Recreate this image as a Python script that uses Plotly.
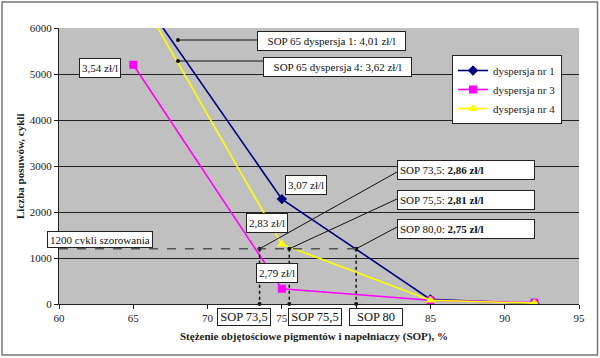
import plotly.graph_objects as go

# ---- data ----
sop = [65, 75, 85, 92]
disp1 = [6930, 2280, 100, 10]
disp3 = [5200, 330, 80, 30]
disp4 = [6930, 1300, 80, 20]
series_names = ["dyspersja nr 1", "dyspersja nr 3", "dyspersja nr 4"]
threshold = 1200
sop_marks = [73.5, 75.5, 80]
sop_mark_labels = ["SOP 73,5", "SOP 75,5", "SOP 80"]
sop_mark_costs = ["SOP 73,5: <b>2,86 zł/l</b>", "SOP 75,5: <b>2,81 zł/l</b>", "SOP 80,0: <b>2,75 zł/l</b>"]
x_ticks = [60, 65, 70, 75, 80, 85, 90, 95]
y_ticks = [0, 1000, 2000, 3000, 4000, 5000, 6000]
x_title = "Stężenie objętościowe pigmentów i napełniaczy (SOP), %"
y_title = "Liczba posuwów, cykli"

W, H = 600, 358
L, R, T, B = 59, 21, 28, 54
XR = (60, 95)
YR = (0, 6000)
pw, ph = W - L - R, H - T - B


def px2x(p):
    return XR[0] + (p - L) / pw * (XR[1] - XR[0])


def px2y(p):
    return YR[0] + (T + ph - p) / ph * (YR[1] - YR[0])


def px2paperx(p):
    return (p - L) / pw


def px2papery(p):
    return (T + ph - p) / ph


FONT = "Liberation Serif"
fig = go.Figure()
fig.add_trace(go.Scatter(x=sop, y=disp1, name=series_names[0], mode="lines+markers",
                         line=dict(color="#000080", width=1.6),
                         marker=dict(symbol="diamond", size=8, color="#000080")))
fig.add_trace(go.Scatter(x=sop, y=disp3, name=series_names[1], mode="lines+markers",
                         line=dict(color="#ff00ff", width=1.6),
                         marker=dict(symbol="square", size=8, color="#ff00ff")))
fig.add_trace(go.Scatter(x=sop, y=disp4, name=series_names[2], mode="lines+markers",
                         line=dict(color="#ffff00", width=1.6),
                         marker=dict(symbol="triangle-up", size=9, color="#ffff00")))

shapes = []
annotations = []

# threshold dashed line
shapes.append(dict(type="line", xref="x", yref="y", x0=XR[0], x1=max(sop_marks), y0=threshold, y1=threshold,
                   line=dict(color="#555555", width=1.5, dash="dash"), layer="above"))
# vertical dotted lines
for xm in sop_marks:
    shapes.append(dict(type="line", xref="x", yref="y", x0=xm, x1=xm, y0=threshold, y1=0,
                       line=dict(color="#111111", width=1.5, dash="dot"), layer="above"))

# leader lines for cost boxes (from box left edge to the threshold points)
box_left = 397
box_centers_y = [170, 200, 229]
leader_start_y = [172, 199, 227]
for xm, ys in zip(sop_marks, leader_start_y):
    shapes.append(dict(type="line", xref="x", yref="y", x0=px2x(box_left), y0=px2y(ys), x1=xm, y1=threshold,
                       line=dict(color="#111111", width=1), layer="above"))

# SOP 65 leaders
tip65 = [(178, 40), (178, 61)]
start65 = [(257, 40), (263, 61)]
for (tx, ty), (sx, sy) in zip(tip65, start65):
    shapes.append(dict(type="line", xref="x", yref="y", x0=px2x(sx), y0=px2y(sy), x1=px2x(tx), y1=px2y(ty),
                       line=dict(color="#111111", width=1), layer="above"))

# dots at leader tips
dot_x = [px2x(t[0]) for t in tip65] + sop_marks + sop_marks
dot_y = [px2y(t[1]) for t in tip65] + [threshold] * 3 + [0] * 3
fig.add_trace(go.Scatter(x=dot_x, y=dot_y, mode="markers", showlegend=False, hoverinfo="skip",
                         marker=dict(color="#111111", size=4), cliponaxis=False))

# outer frame
shapes.append(dict(type="rect", xref="paper", yref="paper",
                   x0=px2paperx(2), x1=px2paperx(597.5), y0=px2papery(355), y1=px2papery(2),
                   line=dict(color="#777777", width=1.5), fillcolor="rgba(0,0,0,0)", layer="below"))


def box(text, cx, cy, size=11, width=None, align="center", height=14):
    d = dict(text=text, xref="x", yref="y", x=px2x(cx), y=px2y(cy), showarrow=False,
             xanchor="center", yanchor="middle",
             font=dict(family=FONT, size=size, color="#111111"), bgcolor="white",
             bordercolor="#222222", borderwidth=1, borderpad=2, align=align, height=height)
    if width:
        d["width"] = width
    annotations.append(d)


box("SOP 65 dyspersja 1: 4,01 zł/l", 331.5, 41, width=143)
box("SOP 65 dyspersja 4: 3,62 zł/l", 337, 67, width=143)
box("3,54 zł/l", 100, 68)
box("3,07 zł/l", 306, 184.5)
box("2,83 zł/l", 267, 223)
box("2,79 zł/l", 277, 272.5)
box("1200 cykli szorowania", 100, 239, size=11, height=11)
for txt, cy in zip(sop_mark_costs, box_centers_y):
    box(txt, 466, cy, width=132, align="left")
for txt, cx in zip(sop_mark_labels, [243.5, 315, 375.5]):
    annotations.append(dict(text=txt, xref="x", yref="paper", x=px2x(cx), y=px2papery(316.5), showarrow=False,
                            xanchor="center", yanchor="middle", width=50,
                            font=dict(family=FONT, size=12.5, color="#111111"), bgcolor="white",
                            bordercolor="#222222", borderwidth=1, borderpad=1, height=14))

# axis titles
annotations.append(dict(text="<b>" + x_title + "</b>", xref="paper", yref="paper",
                        x=px2paperx(314), y=px2papery(336), showarrow=False,
                        xanchor="center", yanchor="middle",
                        font=dict(family=FONT, size=11, color="#222")))
annotations.append(dict(text="<b>" + y_title + "</b>", xref="paper", yref="paper",
                        x=px2paperx(20), y=px2papery(167), showarrow=False, textangle=-90,
                        xanchor="center", yanchor="middle",
                        font=dict(family=FONT, size=11, color="#222")))

fig.update_layout(
    width=W, height=H,
    margin=dict(l=L, r=R, t=T, b=B, autoexpand=False),
    paper_bgcolor="white",
    plot_bgcolor="#c0c0c0",
    font=dict(family=FONT, size=11, color="#222222"),
    shapes=shapes,
    annotations=annotations,
    legend=dict(x=px2paperx(452), y=px2papery(55), xanchor="left", yanchor="top",
                bgcolor="white", bordercolor="#222222", borderwidth=1,
                font=dict(family=FONT, size=11, color="#222222"),
                tracegroupgap=0, itemwidth=30),
    xaxis=dict(range=list(XR), tickvals=x_ticks, ticks="outside", ticklen=4, tickcolor="#222",
               showline=True, linecolor="#222", linewidth=1, showgrid=False, zeroline=False,
               automargin=False,
               tickfont=dict(family=FONT, size=11, color="#222")),
    yaxis=dict(range=list(YR), tickvals=y_ticks, ticks="outside", ticklen=4, tickcolor="#222",
               showline=True, linecolor="#222", linewidth=1, showgrid=True, gridcolor="#222",
               gridwidth=1, zeroline=False, automargin=False,
               tickfont=dict(family=FONT, size=11, color="#222")),
)

fig.write_html("out.html", config={"displayModeBar": False},
               post_script="document.body.style.margin='0';document.body.style.overflow='hidden';")
